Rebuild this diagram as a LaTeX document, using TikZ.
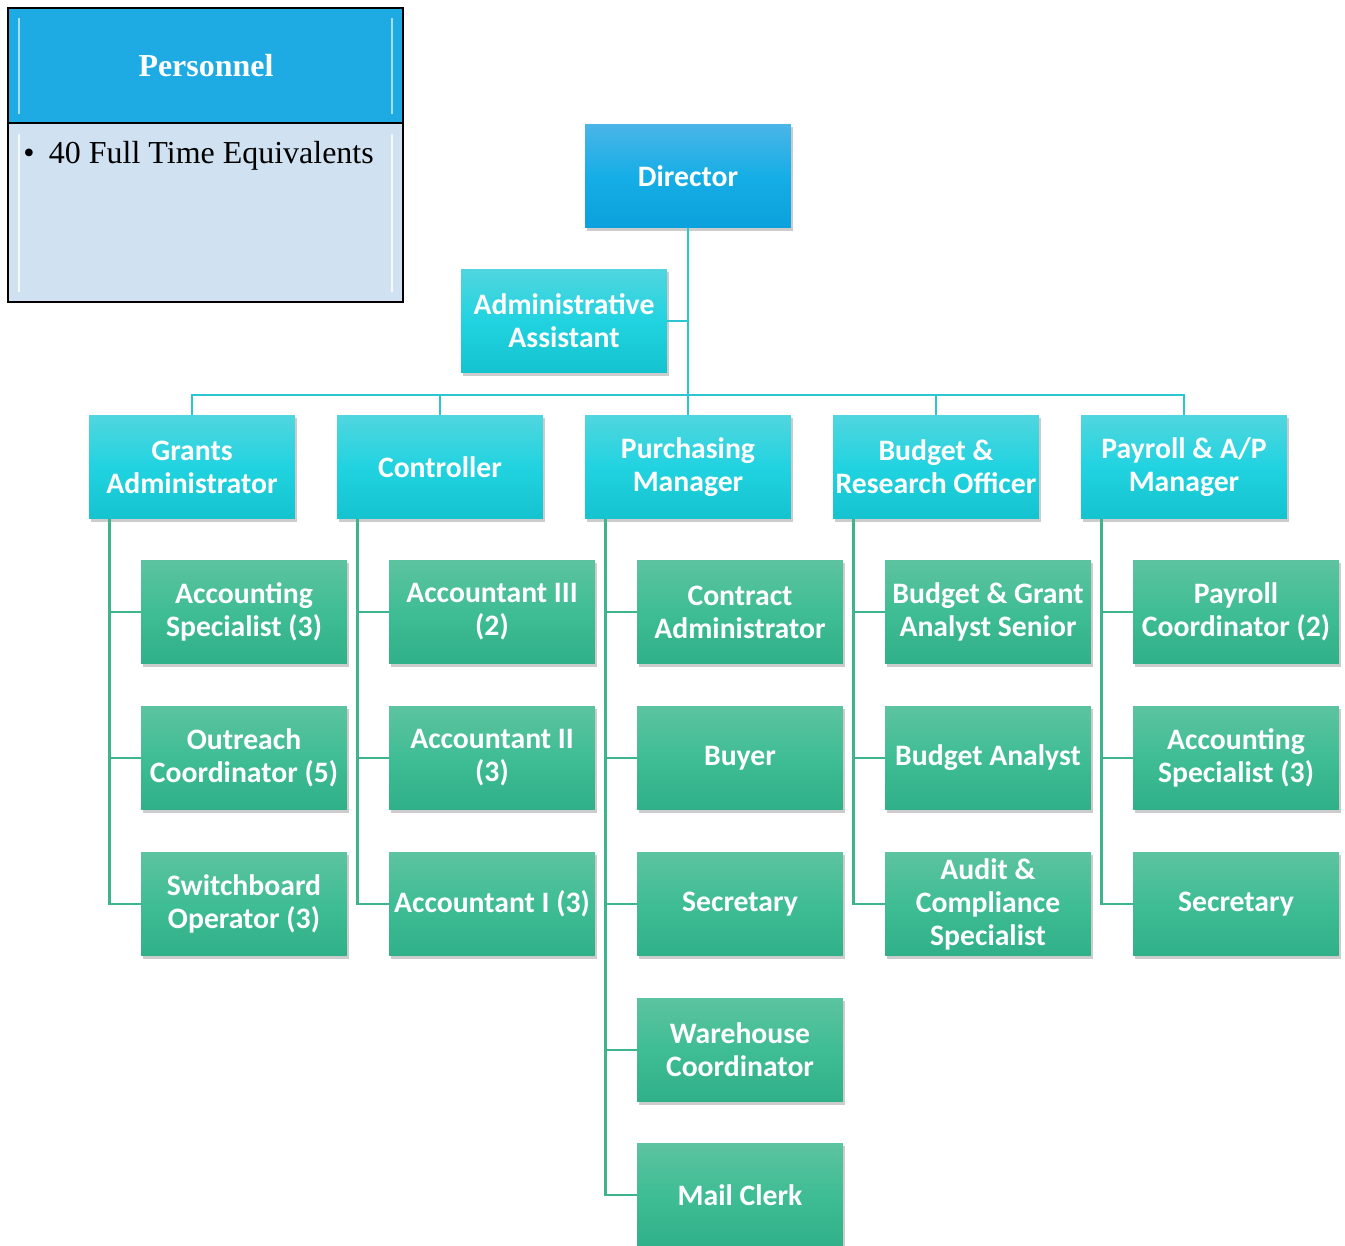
\documentclass[tikz,border=0pt]{standalone}
\usepackage{fontspec}
\setmainfont{Liberation Serif}
\newfontfamily\orgfont{Carlito}
\usetikzlibrary{shadows}

\definecolor{dirtop}{HTML}{4AB5E8}
\definecolor{dirmid}{HTML}{16AEE6}
\definecolor{dirbot}{HTML}{0BA1DC}
\definecolor{cyantop}{HTML}{50D6DF}
\definecolor{cyanmid}{HTML}{21D3E0}
\definecolor{cyanbot}{HTML}{14C3CF}
\definecolor{greentop}{HTML}{5CC3A0}
\definecolor{greenmid}{HTML}{3FBD94}
\definecolor{greenbot}{HTML}{30B089}
\definecolor{cyanline}{HTML}{2BC6D0}
\definecolor{greenline}{HTML}{3DB48D}
\definecolor{headblue}{HTML}{1EABE3}
\definecolor{bodyblue}{HTML}{D0E2F1}

\begin{document}
\begin{tikzpicture}[
    x=0.02cm, y=-0.02cm,
    orgbox/.style={
        rectangle,
        minimum width=4.12cm,
        minimum height=2.07cm,
        inner sep=1pt,
        align=center,
        text=white,
        font=\orgfont\bfseries\fontsize{16.9}{18.8}\selectfont,
        drop shadow={shadow xshift=1.2pt, shadow yshift=-1.8pt, opacity=0.4}
    },
    head/.style={
        orgbox,
        top color=dirtop,
        bottom color=dirbot,
        middle color=dirmid
    },
    manager/.style={
        orgbox,
        top color=cyantop,
        bottom color=cyanbot,
        middle color=cyanmid
    },
    staff/.style={
        orgbox,
        top color=greentop,
        bottom color=greenbot,
        middle color=greenmid
    },
    upper/.style={draw=cyanline, line width=1.6pt},
    lower/.style={draw=greenline, line width=1.6pt}
]
\useasboundingbox (0,0) rectangle (1345,1245);

% Personnel panel
\fill[headblue] (9,9) rectangle (402,123);
\fill[bodyblue] (9,123) rectangle (402,301);
\draw[white, opacity=0.6, line width=1.2pt] (19,18) -- (19,114) (392,18) -- (392,114);
\draw[white, opacity=0.8, line width=1.2pt] (19,134) -- (19,292) (392,134) -- (392,292);
\draw[black, line width=1pt] (9,123) -- (402,123);
\draw[black, line width=1.2pt] (8,8) rectangle (403,302);
\node[text=white, font=\bfseries\fontsize{18.2}{21}\selectfont] (title) at (206,66) {Personnel};
\node[anchor=north west, inner sep=0pt, font=\fontsize{18.2}{21}\selectfont] (fte) at (23,141)
    {\textbullet\hspace{0.45em}40 Full Time Equivalents};

% Director and assistant
\node[head] (dir) at (688,176) {Director};
\node[manager] (asst) at (564,321) {Administrative\\Assistant};

% Managers
\node[manager] (grants) at (192,467) {Grants\\Administrator};
\node[manager] (ctrl) at (440,467) {Controller};
\node[manager] (purch) at (688,467) {Purchasing\\Manager};
\node[manager] (budget) at (936,467) {Budget \&\\Research Officer};
\node[manager] (payroll) at (1184,467) {Payroll \& A/P\\Manager};

% Grants staff
\node[staff] (g1) at (244,612) {Accounting\\Specialist (3)};
\node[staff] (g2) at (244,758) {Outreach\\Coordinator (5)};
\node[staff] (g3) at (244,904) {Switchboard\\Operator (3)};

% Controller staff
\node[staff] (c1) at (492,612) {Accountant III\\(2)};
\node[staff] (c2) at (492,758) {Accountant II\\(3)};
\node[staff] (c3) at (492,904) {Accountant I (3)};

% Purchasing staff
\node[staff] (p1) at (740,612) {Contract\\Administrator};
\node[staff] (p2) at (740,758) {Buyer};
\node[staff] (p3) at (740,904) {Secretary};
\node[staff] (p4) at (740,1050) {Warehouse\\Coordinator};
\node[staff] (p5) at (740,1195) {Mail Clerk};

% Budget staff
\node[staff] (b1) at (988,612) {Budget \& Grant\\Analyst Senior};
\node[staff] (b2) at (988,758) {Budget Analyst};
\node[staff] (b3) at (988,904) {Audit \&\\Compliance\\Specialist};

% Payroll staff
\node[staff] (y1) at (1236,612) {Payroll\\Coordinator (2)};
\node[staff] (y2) at (1236,758) {Accounting\\Specialist (3)};
\node[staff] (y3) at (1236,904) {Secretary};

% Top connectors
\coordinate (bus) at (688,395);
\draw[upper] (dir.south) -- (purch.north);
\draw[upper] (asst.east) -- (asst.east -| dir.south);
\draw[upper] (grants.north) |- (bus) -| (payroll.north);
\draw[upper] (ctrl.north) |- (bus);
\draw[upper] (budget.north) |- (bus);

% Staff connectors
\draw[lower] ([xshift=4.2mm]grants.south west) |- (g1.west);
\draw[lower] ([xshift=4.2mm]grants.south west) |- (g2.west);
\draw[lower] ([xshift=4.2mm]grants.south west) |- (g3.west);

\draw[lower] ([xshift=4.2mm]ctrl.south west) |- (c1.west);
\draw[lower] ([xshift=4.2mm]ctrl.south west) |- (c2.west);
\draw[lower] ([xshift=4.2mm]ctrl.south west) |- (c3.west);

\draw[lower] ([xshift=4.2mm]purch.south west) |- (p1.west);
\draw[lower] ([xshift=4.2mm]purch.south west) |- (p2.west);
\draw[lower] ([xshift=4.2mm]purch.south west) |- (p3.west);
\draw[lower] ([xshift=4.2mm]purch.south west) |- (p4.west);
\draw[lower] ([xshift=4.2mm]purch.south west) |- (p5.west);

\draw[lower] ([xshift=4.2mm]budget.south west) |- (b1.west);
\draw[lower] ([xshift=4.2mm]budget.south west) |- (b2.west);
\draw[lower] ([xshift=4.2mm]budget.south west) |- (b3.west);

\draw[lower] ([xshift=4.2mm]payroll.south west) |- (y1.west);
\draw[lower] ([xshift=4.2mm]payroll.south west) |- (y2.west);
\draw[lower] ([xshift=4.2mm]payroll.south west) |- (y3.west);

\end{tikzpicture}
\end{document}
